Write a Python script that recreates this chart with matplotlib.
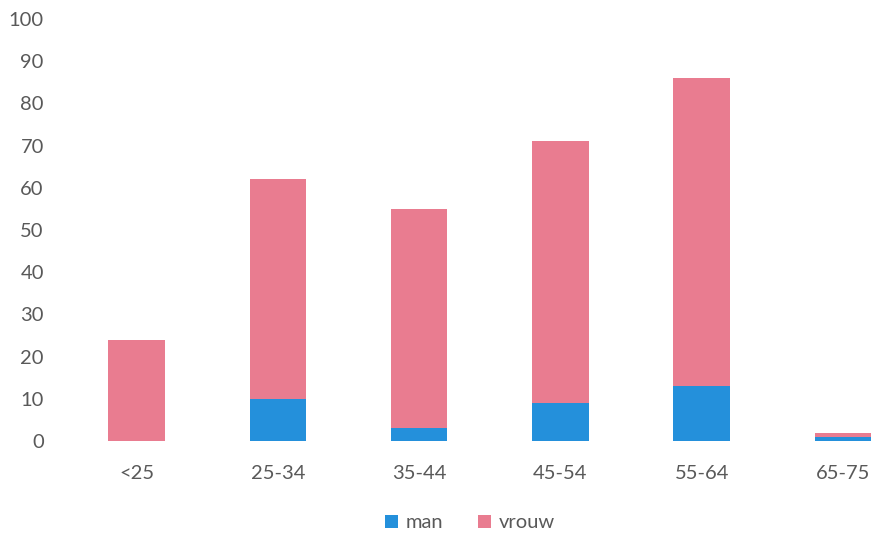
import matplotlib
matplotlib.use("Agg")
import matplotlib.pyplot as plt
import numpy as np

plt.rcParams['font.family'] = ['Lato', 'DejaVu Sans']

# data
categories = ["<25", "25-34", "35-44", "45-54", "55-64", "65-75"]
man = [0, 10, 3, 9, 13, 1]
vrouw = [24, 52, 52, 62, 73, 1]

blue = "#2490db"
pink = "#e97c90"
grey = "#595959"

fig = plt.figure(figsize=(8.75, 5.37), dpi=100)
ax = fig.add_axes([66 / 875, (537 - 441) / 537, 1 - 66 / 875, (441 - 19) / 537])

x = np.arange(len(categories))
ax.bar(x, man, width=0.4, color=blue, label="man")
ax.bar(x, vrouw, width=0.4, bottom=man, color=pink, label="vrouw")

ax.set_xlim(-0.5, 5.227)
ax.set_ylim(0, 100)
ax.set_yticks(range(0, 101, 10))
ax.set_xticks(x)
ax.set_xticklabels(categories)

for s in ax.spines.values():
    s.set_visible(False)
ax.tick_params(axis="both", length=0, colors=grey, labelsize=14.5)
ax.tick_params(axis="y", pad=16)
ax.tick_params(axis="x", pad=17)

fig.legend(loc="center", bbox_to_anchor=(470 / 875, 1 - 523 / 537), ncol=2,
           frameon=False, fontsize=14.5, handlelength=0.65, handleheight=0.65,
           handletextpad=0.4, columnspacing=1.7, labelcolor=grey)

fig.savefig("out.png", dpi=100)
